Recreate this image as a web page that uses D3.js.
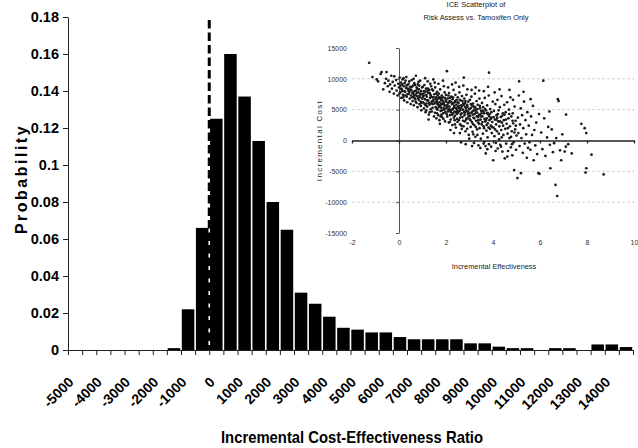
<!DOCTYPE html>
<html>
<head>
<meta charset="utf-8">
<script src="https://cdn.jsdelivr.net/npm/d3@7"></script>
<style>
  body { margin: 0; background: #fff; }
  svg { display: block; font-family: "Liberation Sans", Arial, sans-serif; }
</style>
</head>
<body>
<div id="viz"></div>
<script>
// histogram bins (lower edge of each 500 wide bin) and probabilities
const binStarts = [-5000, -4500, -4000, -3500, -3000, -2500, -2000, -1500, -1000, -500,
  0, 500, 1000, 1500, 2000, 2500, 3000, 3500, 4000, 4500,
  5000, 5500, 6000, 6500, 7000, 7500, 8000, 8500, 9000, 9500,
  10000, 10500, 11000, 11500, 12000, 12500, 13000, 13500, 14000, 14500];
const probValues = [0, 0, 0, 0, 0, 0, 0, 0.001, 0.022, 0.066,
  0.125, 0.160, 0.137, 0.113, 0.080, 0.065, 0.031, 0.025, 0.018, 0.012,
  0.011, 0.0095, 0.0095, 0.007, 0.0058, 0.0058, 0.0058, 0.0058, 0.0036, 0.0036,
  0.0018, 0.001, 0.001, 0, 0.001, 0.001, 0, 0.003, 0.003, 0.0016];
const xLabelValues = [-5000, -4000, -3000, -2000, -1000, 0, 1000, 2000, 3000, 4000,
  5000, 6000, 7000, 8000, 9000, 10000, 11000, 12000, 13000, 14000];
const yTickValues = [0, 0.02, 0.04, 0.06, 0.08, 0.1, 0.12, 0.14, 0.16, 0.18];

// inset: ICE scatterplot (incremental effectiveness, incremental cost)
const insetXTicks = [-2, 0, 2, 4, 6, 8, 10];
const insetYTicks = [-15000, -10000, -5000, 0, 5000, 10000, 15000];
const insetGrid = [-10000, -5000, 5000, 10000];
const icePoints = [
  [-1.27,12600],[-1.13,10300],[-0.95,9900],[-0.89,9600],[-0.78,10800],[-0.74,11100],[-0.67,8300],[-0.6,9300],
  [-0.55,10000],[-0.53,11100],[-0.48,8800],[-0.45,9700],[-0.4,7900],[-0.38,9100],[-0.33,10500],[-0.3,8400],
  [-0.27,9500],[-0.22,7600],[-0.2,10400],[-0.18,8900],[-0.12,9800],[-0.1,8100],[-0.06,7300],[-0.03,9200],[0.0,8600],
  [0.03,10200],[0.05,7800],[0.08,9400],[0.1,6900],[0.12,8300],[0.15,9900],[0.17,7400],[0.2,8800],[0.22,6500],
  [0.24,9300],[0.27,7900],[0.3,8500],[0.31,10300],[0.33,7100],[0.35,6200],[0.37,9000],[0.4,8100],[0.42,7600],
  [0.44,9600],[0.46,6800],[0.48,8700],[0.5,5900],[0.13,8000],[0.26,7300],[0.38,8400],[0.07,8900],[0.19,10100],[0.45,7900],
  [0.52,8200],[0.54,9800],[0.56,7000],[0.58,6400],[0.6,8900],[0.61,7600],[0.63,5700],[0.65,9300],[0.67,8000],
  [0.69,6700],[0.7,7400],[0.72,10500],[0.74,6100],[0.75,8600],[0.77,7200],[0.79,5400],[0.8,9100],[0.82,7800],
  [0.84,6600],[0.85,8300],[0.87,5900],[0.89,7000],[0.9,9700],[0.92,6300],[0.94,8000],[0.95,4900],[0.97,7500],
  [0.99,6800],[0.57,7700],[0.66,6900],[0.78,8400],[0.88,7300],[0.93,5600],[0.62,10000],[0.83,9500],
  [1.01,8700],[1.03,6200],[1.05,7300],[1.06,5200],[1.08,9000],[1.1,6700],[1.12,7900],[1.13,4600],[1.15,8400],
  [1.17,6000],[1.18,7100],[1.2,5500],[1.22,9600],[1.24,6500],[1.25,7700],[1.27,4200],[1.29,8200],[1.3,5800],
  [1.32,6900],[1.34,7400],[1.35,5100],[1.37,8800],[1.39,6300],[1.4,4700],[1.42,7000],[1.44,5900],[1.45,8100],
  [1.47,6600],[1.49,3900],[1.5,7500],[1.04,7600],[1.14,5700],[1.21,8000],[1.28,6100],[1.36,7200],[1.43,5300],
  [1.11,10100],[1.33,9200],[1.46,9900],[1.26,3400],
  [1.51,6000],[1.53,4500],[1.54,8600],[1.56,5400],[1.58,7000],[1.59,3600],[1.61,6400],[1.62,7900],[1.64,5000],
  [1.66,6800],[1.67,4100],[1.69,7600],[1.7,5700],[1.72,3300],[1.73,6200],[1.75,8300],[1.77,4800],[1.78,6600],
  [1.8,5300],[1.82,7300],[1.83,3800],[1.85,5900],[1.86,7000],[1.88,4400],[1.9,6100],[1.91,8800],[1.93,5000],
  [1.95,6900],[1.96,3100],[1.98,5600],[2.0,7400],[1.57,6700],[1.63,5900],[1.71,6900],[1.79,5900],[1.84,6500],
  [1.92,5800],[1.97,4600],[1.52,9400],[1.68,9200],[1.87,9700],[1.74,2700],[1.6,5100],[1.81,4200],
  [2.02,5200],[2.04,11250],[2.05,3900],[2.07,6800],[2.08,4700],[2.1,6100],[2.12,2900],[2.13,7700],[2.15,5500],
  [2.17,4100],[2.18,6400],[2.2,3400],[2.22,7100],[2.23,5000],[2.25,5900],[2.27,2500],[2.28,6700],[2.3,4400],
  [2.32,8200],[2.33,3700],[2.35,5600],[2.37,6200],[2.38,4000],[2.4,7400],[2.42,2100],[2.43,5300],[2.45,6600],
  [2.47,3500],[2.48,4800],[2.5,7000],[2.06,5800],[2.14,6300],[2.21,4600],[2.29,5100],[2.36,4700],[2.44,5800],
  [2.09,8600],[2.26,9100],[2.41,9400],[2.19,1700],[2.34,1200],[2.49,3000],[2.11,4900],[2.31,6000],[2.46,4300],
  [2.52,4500],[2.53,6100],[2.55,3300],[2.57,7800],[2.58,5200],[2.6,2600],[2.62,6500],[2.63,4200],[2.65,5700],
  [2.67,1900],[2.68,7200],[2.7,3800],[2.72,5000],[2.73,6000],[2.75,2300],[2.76,10200],[2.77,4600],[2.78,6800],
  [2.8,3100],[2.82,5400],[2.83,1500],[2.85,4900],[2.87,7400],[2.88,3600],[2.9,5800],[2.92,2800],[2.93,4300],
  [2.95,6300],[2.97,900],[2.98,5100],[3.0,3500],[2.54,5600],[2.61,4900],[2.69,5600],[2.79,4100],[2.86,5300],
  [2.94,4700],[2.56,8700],[2.74,8900],[2.91,8300],[2.64,-300],[2.84,-600],[2.99,300],[2.59,1200],[2.81,6100],
  [3.02,6600],[3.03,4000],[3.05,2200],[3.07,5300],[3.08,7100],[3.1,3000],[3.12,4700],[3.13,1400],[3.15,6000],
  [3.17,3700],[3.18,5500],[3.2,2500],[3.22,4300],[3.23,7600],[3.25,600],[3.27,5000],[3.28,3200],[3.3,6400],
  [3.32,1800],[3.33,4500],[3.35,5800],[3.37,2900],[3.38,-800],[3.4,4100],[3.42,6800],[3.43,2000],[3.45,5200],
  [3.47,3400],[3.48,300],[3.5,4800],[3.06,5900],[3.14,4200],[3.21,5000],[3.29,4600],[3.36,3800],[3.44,4200],
  [3.09,8200],[3.26,8600],[3.41,8100],[3.19,-400],[3.46,-1200],[3.11,-900],
  [3.52,2600],[3.53,6100],[3.55,3900],[3.57,1100],[3.58,5400],[3.6,2300],[3.62,4400],[3.63,-200],[3.65,6900],
  [3.67,3100],[3.69,-2100],[3.7,4900],[3.72,1600],[3.73,3600],[3.75,5700],[3.77,500],[3.78,2800],[3.8,4200],
  [3.82,7300],[3.83,-600],[3.85,3300],[3.87,1900],[3.88,5100],[3.9,2400],[3.92,-1000],[3.93,4600],[3.95,1200],
  [3.97,3000],[3.99,6300],[3.56,4800],[3.64,3500],[3.74,4400],[3.84,3900],[3.94,3700],[3.61,8000],[3.79,8700],
  [3.83,11000],[3.68,-900],
  [4.01,-3200],[4.02,2100],[4.04,4800],[4.06,700],[4.08,3400],[4.1,5900],[4.12,-400],[4.13,2600],[4.15,4100],
  [4.17,1500],[4.19,6600],[4.2,-1300],[4.22,3100],[4.24,4900],[4.26,200],[4.27,2300],[4.29,5400],[4.31,-700],
  [4.33,3800],[4.35,1700],[4.36,7200],[4.38,2900],[4.4,-1800],[4.42,4400],[4.44,900],[4.46,3300],[4.48,5800],
  [4.5,-2900],[4.07,7800],[4.28,8300],[4.18,3700],[4.39,4000],
  [4.52,1900],[4.54,4600],[4.56,-500],[4.58,2700],[4.6,6200],[4.62,1100],[4.64,-1700],[4.66,3600],[4.68,5000],
  [4.7,400],[4.72,2300],[4.74,7000],[4.76,-1100],[4.78,3900],[4.8,1500],[4.82,-2400],[4.84,4400],[4.86,2800],
  [4.88,-300],[4.9,-4800],[4.92,5500],[4.94,1800],[4.96,3200],[4.98,-1500],[5.0,800],[4.7,8200],[4.85,6600],
  [5.04,-6100],[5.06,3700],[5.08,1200],[5.11,9600],[5.13,-900],[5.15,2600],[5.18,5200],[5.19,-5300],[5.21,400],
  [5.24,4100],[5.27,-2000],[5.29,2000],[5.32,6300],[5.35,-500],[5.38,3300],[5.41,1000],[5.44,-2800],[5.46,4600],
  [5.49,-1200],[5.1,7300],[5.3,7900],
  [5.52,2400],[5.55,-300],[5.59,-1500],[5.62,3900],[5.66,900],[5.7,5600],[5.73,-3200],[5.76,1700],[5.8,-800],
  [5.84,2900],[5.88,-2200],[5.93,-5300],[5.96,4300],[5.98,-5400],[5.6,6700],
  [6.05,1300],[6.1,-1400],[6.14,9700],[6.18,3600],[6.23,-2500],[6.3,500],[6.35,2200],[6.42,-700],[6.44,-4500],
  [6.5,1800],[6.55,-1900],[6.6,-430],[6.66,-7200],[6.69,400],[6.73,-9000],[6.76,6700],[6.79,6400],[6.85,-1600],
  [6.9,-3200],[6.95,1000],[6.4,4700],
  [7.1,-1000],[7.11,4200],[7.2,-600],[7.35,-2100],[7.76,2700],[7.9,2000],[7.97,1200],[7.97,-4500],[7.94,-5200],
  [8.19,-2300],[8.71,-5500],[7.05,-1800],
  // second pass over the dense band
  [0.02,7600],[0.09,8400],[0.14,9100],[0.18,7000],[0.23,8000],[0.28,9700],[0.32,8900],[0.36,7500],[0.41,9200],[0.47,8300],
  [0.51,7300],[0.55,8700],[0.59,7900],[0.64,7200],[0.68,9000],[0.71,6300],[0.73,8100],[0.76,7700],[0.81,6900],[0.86,8900],
  [0.91,7600],[0.96,6100],[0.98,8600],
  [1.02,7100],[1.07,8000],[1.09,5900],[1.16,7400],[1.19,6500],[1.23,8400],[1.31,7700],[1.38,6000],[1.41,8300],[1.48,7000],
  [1.16,4900],[1.31,4600],[1.44,6400],
  [1.55,6200],[1.58,7600],[1.62,4400],[1.65,7300],[1.69,5400],[1.73,7000],[1.76,5600],[1.8,6900],[1.83,4900],[1.87,6300],
  [1.9,5300],[1.94,7800],[1.99,6500],[1.65,6100],[1.77,3900],[1.89,3500],
  [2.01,6300],[2.03,4300],[2.07,5500],[2.1,7300],[2.12,5100],[2.16,6900],[2.19,4800],[2.23,6200],[2.26,4200],[2.3,7000],
  [2.33,5300],[2.37,3300],[2.39,6400],[2.42,4600],[2.45,5100],[2.49,6200],[2.16,3000],[2.38,2600],
  [2.51,5400],[2.55,4800],[2.58,6600],[2.6,3700],[2.64,5300],[2.66,4400],[2.7,6400],[2.73,3200],[2.77,5800],[2.8,4500],
  [2.83,6400],[2.86,3400],[2.89,4700],[2.92,5500],[2.96,3900],[2.99,4400],[2.66,2400],[2.9,1900],
  [3.01,5100],[3.04,3300],[3.08,4500],[3.11,5700],[3.14,2700],[3.17,4800],[3.2,3600],[3.24,5400],[3.27,2200],[3.31,3900],
  [3.34,5100],[3.38,3300],[3.41,2700],[3.44,5600],[3.48,3900],[3.16,1000],[3.34,900],
  [3.51,4400],[3.55,3000],[3.59,4700],[3.62,2000],[3.66,5100],[3.7,3300],[3.73,2500],[3.77,4500],[3.81,2100],[3.86,4300],
  [3.9,3500],[3.96,2200],[3.6,-500],[3.76,-1400],
  [4.03,3800],[4.09,1800],[4.14,3400],[4.21,4300],[4.25,1100],[4.3,3100],[4.37,500],[4.43,2400],[4.49,4200],[4.11,-1700],
  [4.34,-1000],
  [4.55,3400],[4.63,2000],[4.69,4300],[4.77,600],[4.83,3200],[4.91,1300],[4.97,2400],[4.61,-2600],[4.81,-600]
];

const W = 638, H = 448;
const svg = d3.select("#viz").append("svg").attr("width", W).attr("height", H);

// ---- main histogram ----
const x = d3.scaleLinear().domain([-5000, 15000]).range([68, 633]);
const y = d3.scaleLinear().domain([0, 0.18]).range([350, 17]);

const bars = binStarts.map((b, i) => ({ start: b, p: probValues[i] }));

svg.append("g").selectAll("rect")
  .data(bars.filter(d => d.p > 0))
  .join("rect")
  .attr("x", d => x(d.start) + 0.8)
  .attr("y", d => y(d.p))
  .attr("width", d => x(d.start + 500) - x(d.start) - 1.6)
  .attr("height", d => y(0) - y(d.p))
  .attr("fill", "#000");

// dashed line at ICER = 0
svg.append("line")
  .attr("x1", x(0)).attr("x2", x(0))
  .attr("y1", 20).attr("y2", y(0))
  .attr("stroke", "#000").attr("stroke-width", 3)
  .attr("stroke-dasharray", "8.5,4");

// y axis
const yAxis = svg.append("g")
  .attr("transform", `translate(${x(-5000)},0)`)
  .call(d3.axisLeft(y).tickValues(yTickValues).tickSize(5).tickSizeOuter(0).tickFormat(d => String(d)));
yAxis.selectAll("text")
  .attr("font-size", 14.5).attr("font-weight", "bold").attr("fill", "#000").attr("x", -9);
yAxis.selectAll("line, path").attr("stroke", "#222");

// x axis, ticks every 500
const xAxis = svg.append("g")
  .attr("transform", `translate(0,${y(0)})`)
  .call(d3.axisBottom(x).ticks(40).tickSize(5).tickSizeOuter(0).tickFormat(""));
xAxis.selectAll("line, path").attr("stroke", "#222");

// rotated labels every 1000
const xLab = svg.append("g")
  .attr("transform", `translate(0,${y(0)})`)
  .call(d3.axisBottom(x).tickValues(xLabelValues).tickSize(0).tickFormat(d => String(d)));
xLab.select(".domain").remove();
xLab.selectAll("text")
  .attr("x", 0).attr("y", 0).attr("dy", null)
  .attr("text-anchor", "end")
  .attr("transform", "translate(6,33) rotate(-45)")
  .attr("font-size", 14).attr("font-weight", "bold").attr("fill", "#000");

// axis titles
svg.append("text")
  .attr("transform", "translate(27,179) rotate(-90)")
  .attr("text-anchor", "middle")
  .attr("font-size", 16).attr("font-weight", "bold").attr("letter-spacing", 2.5)
  .text("Probability");

svg.append("text")
  .attr("x", 352).attr("y", 443)
  .attr("text-anchor", "middle")
  .attr("font-size", 16.5).attr("font-weight", "bold")
  .attr("textLength", 262).attr("lengthAdjust", "spacingAndGlyphs")
  .text("Incremental Cost-Effectiveness Ratio");

// ---- inset scatterplot ----
const sx = d3.scaleLinear().domain([-2, 10]).range([352, 634]);
const sy = d3.scaleLinear().domain([-15000, 15000]).range([233, 48]);
const inset = svg.append("g").attr("font-size", 7).attr("fill", "#222");

inset.selectAll("line.grid")
  .data(insetGrid)
  .join("line")
  .attr("class", "grid")
  .attr("x1", sx(-2)).attr("x2", sx(10))
  .attr("y1", d => sy(d)).attr("y2", d => sy(d))
  .attr("stroke", "#c8c8c8").attr("stroke-width", 0.8)
  .attr("stroke-dasharray", "3,2");

const iy = inset.append("g")
  .attr("transform", `translate(${sx(0)},0)`)
  .call(d3.axisLeft(sy).tickValues(insetYTicks).tickSize(3).tickSizeOuter(0).tickFormat(d => String(d)));
iy.selectAll("line, path").attr("stroke", "#555");
iy.selectAll("text").attr("x", sx(-2) - 5 - sx(0)).attr("font-size", 7).attr("fill", "#333");

const ix = inset.append("g")
  .attr("transform", `translate(0,${sy(0)})`)
  .call(d3.axisBottom(sx).tickValues(insetXTicks).tickSize(3).tickSizeOuter(0).tickFormat(d => String(d)));
ix.selectAll("line, path").attr("stroke", "#222").attr("stroke-width", 1.3);
ix.selectAll("text").attr("y", sy(-15000) - sy(0) + 12).attr("dy", null).attr("font-size", 7).attr("fill", "#333");

inset.append("g").selectAll("circle")
  .data(icePoints)
  .join("circle")
  .attr("cx", d => sx(d[0]))
  .attr("cy", d => sy(d[1]))
  .attr("r", 1.35)
  .attr("fill", "#1a1a1a");

inset.append("text")
  .attr("x", 476).attr("y", 7)
  .attr("text-anchor", "middle").attr("font-size", 7.5)
  .text("ICE Scatterplot of");
inset.append("text")
  .attr("x", 476).attr("y", 20)
  .attr("text-anchor", "middle").attr("font-size", 7.5)
  .attr("textLength", 105).attr("lengthAdjust", "spacingAndGlyphs")
  .text("Risk Assess vs. Tamoxifen Only");

inset.append("text")
  .attr("transform", `translate(322,${sy(0)}) rotate(-90)`)
  .attr("text-anchor", "middle").attr("font-size", 8).attr("letter-spacing", 1.3)
  .text("Incremental Cost");

inset.append("text")
  .attr("x", 494).attr("y", 269)
  .attr("text-anchor", "middle").attr("font-size", 7.4)
  .text("Incremental Effectiveness");
</script>
</body>
</html>
